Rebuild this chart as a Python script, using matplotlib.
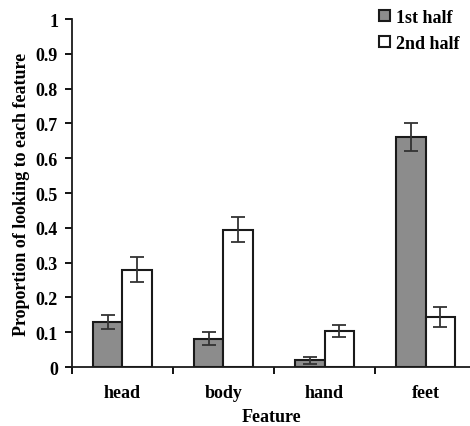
import numpy as np
import matplotlib.pyplot as plt
from matplotlib.ticker import FixedLocator

features = ['head', 'body', 'hand', 'feet']
first_half = [0.13, 0.082, 0.02, 0.66]
first_err = [0.02, 0.018, 0.01, 0.04]
second_half = [0.28, 0.395, 0.104, 0.144]
second_err = [0.036, 0.036, 0.018, 0.03]
yticks = [0, 0.1, 0.2, 0.3, 0.4, 0.5, 0.6, 0.7, 0.8, 0.9, 1]
ylabels = ['0', '0.1', '0.2', '0.3', '0.4', '0.5', '0.6', '0.7', '0.8', '0.9', '1']

plt.rcParams['font.family'] = ['Liberation Serif', 'DejaVu Serif']
plt.rcParams['font.weight'] = 'bold'

fig = plt.figure(figsize=(4.7, 4.27), dpi=100)
ax = fig.add_axes([0.153, 0.138, 0.847, 0.815])

x = np.arange(len(features))
w = 0.29
ek = dict(ecolor='#333333', elinewidth=1.3, capsize=5, capthick=1.3)
ax.bar(x - w / 2, first_half, w, yerr=first_err, color='#8c8c8c',
       edgecolor='#1a1a1a', linewidth=1.5, error_kw=ek, label='1st half', zorder=2)
ax.bar(x + w / 2, second_half, w, yerr=second_err, color='white',
       edgecolor='#1a1a1a', linewidth=1.5, error_kw=ek, label='2nd half', zorder=2)

ax.set_xlim(-0.5, 3.44)
ax.set_ylim(0, 1)
ax.set_yticks(yticks)
ax.set_yticklabels(ylabels)
ax.set_xticks(x)
ax.set_xticklabels(features, fontsize=13, fontweight='bold')
ax.xaxis.set_minor_locator(FixedLocator([-0.5, 0.5, 1.5, 2.5]))
ax.tick_params(axis='x', which='major', length=0, pad=12)
ax.tick_params(axis='x', which='minor', length=5, width=1.3, direction='out')
ax.tick_params(axis='y', length=5, width=1.3, direction='out', labelsize=13, pad=5)

for s in ['top', 'right']:
    ax.spines[s].set_visible(False)
for s in ['left', 'bottom']:
    ax.spines[s].set_linewidth(1.3)
    ax.spines[s].set_color('#1a1a1a')

ax.set_xlabel('Feature', fontsize=13, fontweight='bold', labelpad=5)
ax.set_ylabel('Proportion of looking to each feature', fontsize=13, fontweight='bold', labelpad=4)

leg = ax.legend(loc='upper right', bbox_to_anchor=(1.0, 1.06), frameon=False,
                fontsize=13, handlelength=0.6, handleheight=0.6, handletextpad=0.3,
                labelspacing=0.5, borderaxespad=0.2)
for t in leg.get_texts():
    t.set_fontweight('bold')

fig.savefig('out.png', dpi=100)
